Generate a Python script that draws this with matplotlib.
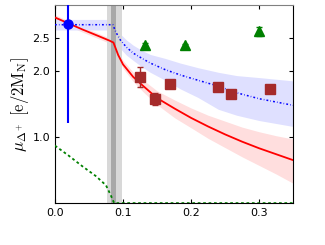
import numpy as np
import matplotlib
matplotlib.use("Agg")
import matplotlib.pyplot as plt

plt.rcParams['mathtext.fontset'] = 'cm'

# red curve with band
red_x = [0.0, 0.02, 0.04, 0.066, 0.08, 0.086, 0.093, 0.100, 0.115, 0.130, 0.150, 0.176, 0.20, 0.225, 0.25, 0.275, 0.30, 0.325, 0.35]
red_y = [2.81, 2.72, 2.63, 2.52, 2.46, 2.43, 2.24, 2.10, 1.91, 1.77, 1.59, 1.43, 1.29, 1.16, 1.04, 0.93, 0.83, 0.74, 0.65]
red_lo = [2.77, 2.68, 2.59, 2.48, 2.42, 2.39, 2.19, 2.04, 1.84, 1.68, 1.49, 1.29, 1.14, 0.98, 0.84, 0.70, 0.57, 0.44, 0.30]
red_hi = [2.85, 2.76, 2.67, 2.56, 2.50, 2.47, 2.29, 2.16, 1.98, 1.86, 1.70, 1.56, 1.44, 1.33, 1.24, 1.15, 1.08, 1.02, 0.97]

# blue curve with band
blue_x = [0.0, 0.04, 0.085, 0.090, 0.096, 0.105, 0.115, 0.128, 0.140, 0.162, 0.184, 0.21, 0.24, 0.267, 0.30, 0.35]
blue_y = [2.70, 2.70, 2.70, 2.58, 2.47, 2.36, 2.27, 2.19, 2.12, 2.02, 1.94, 1.86, 1.77, 1.67, 1.58, 1.48]
blue_lo = [2.62, 2.62, 2.62, 2.46, 2.34, 2.24, 2.16, 2.06, 1.98, 1.86, 1.73, 1.60, 1.42, 1.33, 1.25, 1.16]
blue_hi = [2.78, 2.78, 2.78, 2.66, 2.56, 2.47, 2.39, 2.31, 2.25, 2.19, 2.12, 2.05, 1.98, 1.93, 1.90, 1.85]

# green curve
green_x = [0.0, 0.02, 0.04, 0.06, 0.075, 0.082, 0.087, 0.35]
green_y = [0.87, 0.72, 0.56, 0.41, 0.27, 0.12, 0.0, 0.0]

# data points
sq_x = [0.125, 0.147, 0.169, 0.239, 0.258, 0.316]
sq_y = [1.91, 1.58, 1.81, 1.76, 1.65, 1.72]
sq_err = [0.15, 0.09, 0.03, 0.03, 0.06, 0.02]

tri_x = [0.133, 0.191, 0.300]
tri_y = [2.40, 2.39, 2.60]
tri_err = [0.02, 0.02, 0.07]

pt_x = [0.0196]
pt_y = [2.71]
pt_err = [1.5]

fig = plt.figure(figsize=(3.25, 2.45), dpi=100)
ax = fig.add_axes([0.169, 0.171, 0.733, 0.809])

ax.fill_between(red_x, red_lo, red_hi, color='#ffdede', lw=0, zorder=1)
ax.fill_between(blue_x, blue_lo, blue_hi, color='#dfe0ff', lw=0, zorder=1)

ax.axvspan(0.077, 0.098, color='#d8d8d8', lw=0, zorder=2)
ax.axvspan(0.083, 0.089, color='#a8a8a8', lw=0, zorder=2)

ax.plot(red_x, red_y, color='red', lw=1.3, zorder=3)
ax.plot(blue_x, blue_y, color='blue', lw=1.1, linestyle=(0, (1.2, 1.4, 0.4, 1.4)), zorder=3)
ax.plot(green_x, green_y, color='green', lw=1.3, linestyle=(0, (1.5, 1.5)), zorder=3)

ax.errorbar(sq_x, sq_y, yerr=sq_err, fmt='s', color='#a52a2a', ms=6.5, capsize=2, elinewidth=1, zorder=4)
ax.errorbar(tri_x, tri_y, yerr=tri_err, fmt='^', color='green', ms=6.5, capsize=2, elinewidth=1, zorder=4)
ax.errorbar(pt_x, pt_y, yerr=pt_err, fmt='o', color='blue', ms=6.5, elinewidth=1.5, zorder=5)

ax.set_xlim(0, 0.35)
ax.set_ylim(0, 3.0)
ax.set_xticks([0.0, 0.1, 0.2, 0.3])
ax.set_xticklabels(['0.0', '0.1', '0.2', '0.3'])
ax.set_yticks([1.0, 2.0, 2.5])
ax.set_yticklabels(['1.0', '2.0', '2.5'])
ax.tick_params(direction='in', top=True, right=True, labelsize=8, length=3)
ax.spines['top'].set_color('#808080')
ax.set_ylabel(r'$\mu_{\Delta^+}\ \left[\mathrm{e}/2\mathrm{M_N}\right]$', fontsize=12, labelpad=1)

fig.savefig('out.png', dpi=100)
